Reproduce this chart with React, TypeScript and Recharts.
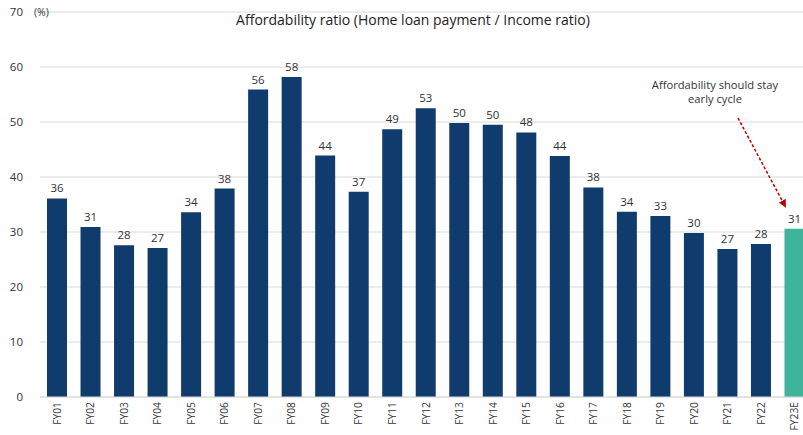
import React from "react";
import { BarChart, Bar, XAxis, YAxis, CartesianGrid, LabelList, Cell } from "recharts";

const years = [
  "FY01", "FY02", "FY03", "FY04", "FY05", "FY06", "FY07", "FY08", "FY09", "FY10", "FY11", "FY12",
  "FY13", "FY14", "FY15", "FY16", "FY17", "FY18", "FY19", "FY20", "FY21", "FY22", "FY23E",
];
const ratio = [
  36.1, 30.9, 27.6, 27.1, 33.6, 37.9, 55.9, 58.2, 43.9, 37.3, 48.7, 52.5,
  49.8, 49.5, 48.1, 43.8, 38.1, 33.7, 32.9, 29.8, 26.9, 27.8, 30.6,
];
const yTicks = [0, 10, 20, 30, 40, 50, 60, 70];
const estimateYear = "FY23E";

const data = years.map((year, i) => ({ year, ratio: ratio[i] }));

const FONT = "'Open Sans', 'Noto Sans', sans-serif";
const NAVY = "#0f3c6c";
const TEAL = "#40b39b";

const XTick = (props: any) => {
  const { x, y, payload } = props;
  return (
    <text
      x={x}
      y={y - 3}
      transform={`rotate(-90, ${x}, ${y - 3})`}
      textAnchor="end"
      dominantBaseline="central"
      fontSize={10.3}
      fontFamily={FONT}
      fill="#333"
    >
      {payload.value}
    </text>
  );
};

export default function App() {
  return (
    <div style={{ position: "absolute", left: 0, top: 0, width: 803, height: 435, overflow: "hidden", background: "#fff" }}>
      <BarChart
        width={811}
        height={435}
        data={data}
        margin={{ top: 12, right: 0, bottom: 0, left: 0 }}
        barSize={20}
      >
        <CartesianGrid vertical={false} stroke="#d9d9d9" />
        <XAxis
          dataKey="year"
          interval={0}
          height={38}
          tickLine={false}
          axisLine={{ stroke: "#d9d9d9" }}
          tick={<XTick />}
        />
        <YAxis
          domain={[0, 70]}
          ticks={yTicks}
          width={40}
          axisLine={false}
          tickLine={false}
          tickSize={17}
          tickMargin={0}
          tick={{ fontSize: 11.5, fill: "#333", fontFamily: FONT }}
        />
        <Bar dataKey="ratio" isAnimationActive={false}>
          {data.map((d) => (
            <Cell key={d.year} fill={d.year === estimateYear ? TEAL : NAVY} />
          ))}
          <LabelList
            dataKey="ratio"
            position="top"
            offset={6}
            formatter={(v: any) => Math.round(Number(v))}
            style={{ fontSize: 11.5, fill: "#333", fontFamily: FONT }}
          />
        </Bar>
      </BarChart>
      <svg
        width={803}
        height={435}
        style={{ position: "absolute", left: 0, top: 0, pointerEvents: "none" }}
        fontFamily={FONT}
      >
        <defs>
          <marker id="arrow" markerWidth="8" markerHeight="8" refX="6" refY="4" orient="auto" markerUnits="userSpaceOnUse">
            <path d="M0,0 L8,4 L0,8 z" fill="#c00000" />
          </marker>
        </defs>
        <text x={34} y={16} fontSize={10.5} fill="#333">(%)</text>
        <text x={413} y={25} textAnchor="middle" fontSize={14} fill="#222">
          Affordability ratio (Home loan payment / Income ratio)
        </text>
        <text x={715} y={89} textAnchor="middle" fontSize={11.2} fill="#333">Affordability should stay</text>
        <text x={715} y={103} textAnchor="middle" fontSize={11.2} fill="#333">early cycle</text>
        <line
          x1={738}
          y1={118}
          x2={785}
          y2={206}
          stroke="#c00000"
          strokeWidth={1.5}
          strokeDasharray="3 2"
          markerEnd="url(#arrow)"
        />
      </svg>
    </div>
  );
}
